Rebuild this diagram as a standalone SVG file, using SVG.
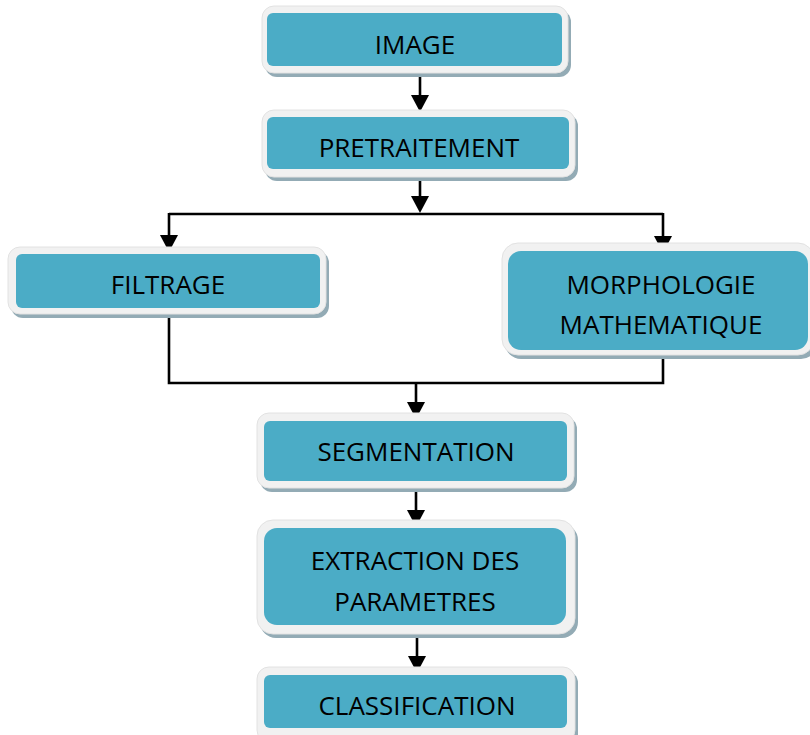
<svg xmlns="http://www.w3.org/2000/svg" width="810" height="735" viewBox="0 0 810 735">
<style>
.sh{fill:#93abb5}
.fr{fill:#f1f1f1;stroke:#e2e2e2;stroke-width:1}
.in{fill:#4bacc6}
.t{font-family:"Open Sans","Liberation Sans",sans-serif;font-size:26px;fill:#000;text-anchor:middle}
.c{fill:none;stroke:#000;stroke-width:2.6}
</style>
<defs>
<path id="ah" d="M-9,-17 L9,-17 L0,0 Z" fill="#000"/>
</defs>
<g id="connectors">
<path class="c" d="M420,76 V100"/>
<use href="#ah" x="420" y="112"/>
<path class="c" d="M420,179 V200"/>
<use href="#ah" x="420" y="213"/>
<path class="c" d="M169,214 H663"/>
<path class="c" d="M169,213 V240"/>
<use href="#ah" x="169" y="252"/>
<path class="c" d="M663,213 V240"/>
<use href="#ah" x="663" y="253"/>
<path class="c" d="M169,317 V383 H663 V358"/>
<path class="c" d="M416,383 V408"/>
<use href="#ah" x="416" y="419"/>
<path class="c" d="M416,489 V515"/>
<use href="#ah" x="416" y="527"/>
<path class="c" d="M417,636 V662"/>
<use href="#ah" x="417" y="673"/>
</g>
<g id="image">
<rect class="sh" x="265" y="10" width="306" height="67" rx="12"/>
<rect class="fr" x="262" y="6" width="306" height="67" rx="12"/>
<rect class="in" x="267" y="13" width="295" height="53" rx="6"/>
<text class="t" x="415" y="54">IMAGE</text>
</g>
<g id="pretraitement">
<rect class="sh" x="265" y="114" width="313" height="67" rx="12"/>
<rect class="fr" x="262" y="110" width="313" height="67" rx="12"/>
<rect class="in" x="267" y="117" width="302" height="52" rx="6"/>
<text class="t" x="419" y="157">PRETRAITEMENT</text>
</g>
<g id="filtrage">
<rect class="sh" x="11" y="251" width="318" height="67" rx="12"/>
<rect class="fr" x="8" y="247" width="318" height="67" rx="12"/>
<rect class="in" x="16" y="254" width="304" height="54" rx="6"/>
<text class="t" x="168" y="294">FILTRAGE</text>
</g>
<g id="morphologie">
<rect class="sh" x="505" y="247" width="312" height="112" rx="16"/>
<rect class="fr" x="502" y="243" width="312" height="112" rx="16"/>
<rect class="in" x="508" y="251" width="300" height="99" rx="13"/>
<text class="t" x="661" y="294">MORPHOLOGIE</text>
<text class="t" x="661" y="334">MATHEMATIQUE</text>
</g>
<g id="segmentation">
<rect class="sh" x="260" y="417" width="317" height="75" rx="12"/>
<rect class="fr" x="257" y="413" width="317" height="75" rx="12"/>
<rect class="in" x="264" y="421" width="303" height="60" rx="6"/>
<text class="t" x="416" y="461">SEGMENTATION</text>
</g>
<g id="extraction">
<rect class="sh" x="260" y="524" width="318" height="114" rx="16"/>
<rect class="fr" x="257" y="520" width="318" height="114" rx="16"/>
<rect class="in" x="264" y="528" width="302" height="97" rx="13"/>
<text class="t" x="415" y="570">EXTRACTION DES</text>
<text class="t" x="415" y="611">PARAMETRES</text>
</g>
<g id="classification">
<rect class="sh" x="260" y="671" width="318" height="75" rx="12"/>
<rect class="fr" x="257" y="667" width="318" height="75" rx="12"/>
<rect class="in" x="264" y="675" width="303" height="53" rx="6"/>
<text class="t" x="417" y="715">CLASSIFICATION</text>
</g>
</svg>
